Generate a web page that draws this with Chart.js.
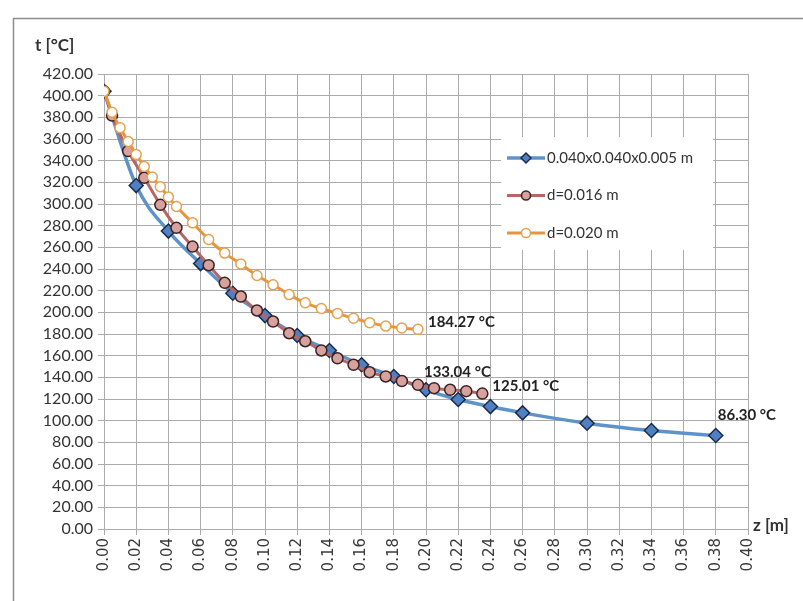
<!DOCTYPE html>
<html lang="en">
<head>
<meta charset="UTF-8">
<title>t [°C] vs z [m]</title>
<script src="https://cdn.jsdelivr.net/npm/chart.js"></script>
<style>
  html, body { margin: 0; padding: 0; background: #ffffff; }
  #chart { display: block; }
</style>
</head>
<body>
<canvas id="chart" width="803" height="601"></canvas>
<script>
// 0.040x0.040x0.005 m profile
const zBar = [0, 0.02, 0.04, 0.06, 0.08, 0.10, 0.12, 0.14, 0.16, 0.18, 0.20, 0.22, 0.24, 0.26, 0.30, 0.34, 0.38];
const tBar = [404, 317, 275, 245, 217.6, 197, 178.6, 164.8, 151.6, 140.8, 128.5, 119.5, 113, 107.2, 97.7, 90.9, 86.30];

// d=0.016 m
const z16 = [0, 0.005, 0.015, 0.025, 0.035, 0.045, 0.055, 0.065, 0.075, 0.085, 0.095, 0.105, 0.115,
             0.125, 0.135, 0.145, 0.155, 0.165, 0.175, 0.185, 0.195, 0.205, 0.215, 0.225, 0.235];
const t16 = [404, 381.6, 348.9, 324.2, 299.2, 278, 260.7, 243.5, 227.2, 214.6, 201.7, 191.5, 180.7,
             173.3, 164.8, 157.6, 151.6, 144.7, 140.8, 136.6, 133.04, 130, 128.5, 127.2, 125.01];

// d=0.020 m
const z20 = [0, 0.005, 0.010, 0.015, 0.020, 0.025, 0.030, 0.035, 0.040, 0.045, 0.055, 0.065, 0.075,
             0.085, 0.095, 0.105, 0.115, 0.125, 0.135, 0.145, 0.155, 0.165, 0.175, 0.185, 0.195];
const t20 = [404, 384.7, 370.3, 357.7, 345.7, 334.6, 324.9, 315.9, 306.4, 297.7, 282.6, 267.2, 254.7,
             244.6, 234, 225.4, 216.4, 208.8, 203.5, 199, 194.5, 190.5, 187.3, 185.5, 184.27];

const seriesNames = ['0.040x0.040x0.005 m', 'd=0.016 m', 'd=0.020 m'];
const zTicks = [0, 0.02, 0.04, 0.06, 0.08, 0.10, 0.12, 0.14, 0.16, 0.18, 0.20,
                0.22, 0.24, 0.26, 0.28, 0.30, 0.32, 0.34, 0.36, 0.38, 0.40];
const tTicks = [0, 20, 40, 60, 80, 100, 120, 140, 160, 180, 200,
                220, 240, 260, 280, 300, 320, 340, 360, 380, 400, 420];

// which points carry a value label: [dataset, point index, text]
const valueLabels = [
  [2, z20.length - 1, '184.27 °C'],
  [1, 20, '133.04 °C'],
  [1, z16.length - 1, '125.01 °C'],
  [0, zBar.length - 1, '86.30 °C']
];

function pts(xs, ys) {
  return xs.map((x, i) => ({ x: x, y: ys[i] }));
}

const GRID = '#ababab';
const TXT = '#333333';

const framePlugin = {
  id: 'frame',
  beforeDraw(chart) {
    const ctx = chart.ctx;
    ctx.save();
    ctx.fillStyle = '#ffffff';
    ctx.fillRect(0, 0, chart.width, chart.height);
    ctx.strokeStyle = '#8c8c8c';
    ctx.lineWidth = 1.5;
    ctx.strokeRect(13.5, 18.5, 820, 620);
    ctx.restore();
  },
  afterDraw(chart) {
    const ctx = chart.ctx;
    const area = chart.chartArea;
    ctx.save();
    ctx.fillStyle = TXT;
    ctx.font = 'bold 17px Lato';
    ctx.textBaseline = 'middle';
    ctx.textAlign = 'left';
    ctx.fillText('t [°C]', 35, 46);
    ctx.fillText('z [m]', area.right + 5, area.bottom - 3);

    // value labels
    ctx.font = 'bold 15px Lato';
    ctx.fillStyle = '#222222';
    valueLabels.forEach(([ds, idx, text]) => {
      const el = chart.getDatasetMeta(ds).data[idx];
      let dx = 10, dy = -7;
      if (ds === 1 && idx === 20) { dx = 6; dy = -13; }
      if (ds === 0) { dx = 2; dy = -20; }
      ctx.fillText(text, el.x + dx, el.y + dy);
    });

    // legend box
    const lx = 501, ly = 137, lw = 212, lh = 113;
    ctx.fillStyle = '#ffffff';
    ctx.fillRect(lx, ly, lw, lh);
    ctx.font = '15px Lato';
    chart.data.datasets.forEach((d, i) => {
      const y = ly + 21 + i * 37.5;
      ctx.strokeStyle = d.borderColor;
      ctx.lineWidth = d.borderWidth;
      ctx.beginPath();
      ctx.moveTo(lx + 6, y);
      ctx.lineTo(lx + 44, y);
      ctx.stroke();
      ctx.fillStyle = d.pointBackgroundColor;
      ctx.strokeStyle = d.pointBorderColor;
      ctx.lineWidth = d.pointBorderWidth;
      ctx.beginPath();
      if (d.pointStyle === 'rectRot') {
        const r = 5;
        ctx.moveTo(lx + 25, y - r);
        ctx.lineTo(lx + 25 + r, y);
        ctx.lineTo(lx + 25, y + r);
        ctx.lineTo(lx + 25 - r, y);
        ctx.closePath();
      } else {
        ctx.arc(lx + 25, y, 4.5, 0, Math.PI * 2);
      }
      ctx.fill();
      ctx.stroke();
      ctx.fillStyle = TXT;
      ctx.fillText(d.label, lx + 46, y);
    });
    ctx.restore();
  }
};

new Chart(document.getElementById('chart'), {
  type: 'scatter',
  data: {
    datasets: [
      {
        label: seriesNames[0],
        data: pts(zBar, tBar),
        showLine: true,
        borderColor: '#5e93c9',
        borderWidth: 3.5,
        pointStyle: 'rectRot',
        pointRadius: 7,
        pointBackgroundColor: '#4f80c4',
        pointBorderColor: '#1c2b45',
        pointBorderWidth: 1.5,
        cubicInterpolationMode: 'monotone',
        order: 3
      },
      {
        label: seriesNames[1],
        data: pts(z16, t16),
        showLine: true,
        borderColor: '#b86664',
        borderWidth: 3,
        pointStyle: 'circle',
        pointRadius: 5.5,
        pointBackgroundColor: '#d7a19e',
        pointBorderColor: '#3a2222',
        pointBorderWidth: 1.5,
        cubicInterpolationMode: 'monotone',
        order: 2
      },
      {
        label: seriesNames[2],
        data: pts(z20, t20),
        showLine: true,
        borderColor: '#e6953e',
        borderWidth: 3,
        pointStyle: 'circle',
        pointRadius: 5,
        pointBackgroundColor: '#ffffff',
        pointBorderColor: '#e6a050',
        pointBorderWidth: 1.5,
        cubicInterpolationMode: 'monotone',
        order: 1
      }
    ]
  },
  options: {
    responsive: false,
    animation: false,
    devicePixelRatio: 1,
    layout: { padding: { left: 0, top: 74, right: 55, bottom: 0 } },
    plugins: {
      legend: { display: false },
      tooltip: { enabled: false }
    },
    scales: {
      x: {
        type: 'linear',
        min: 0,
        max: 0.40,
        afterFit(s) { s.height = 72; },
        afterBuildTicks(s) { s.ticks = zTicks.map(v => ({ value: v })); },
        grid: { color: GRID, lineWidth: 1, tickLength: 6 },
        border: { color: GRID, width: 1 },
        ticks: {
          autoSkip: false,
          minRotation: 90,
          maxRotation: 90,
          padding: 3,
          color: '#3a3a3a',
          font: { family: 'DejaVu Sans', size: 15 },
          callback: v => Number(v).toFixed(2)
        }
      },
      y: {
        type: 'linear',
        min: 0,
        max: 420,
        afterFit(s) { s.width = 104; },
        afterBuildTicks(s) { s.ticks = tTicks.map(v => ({ value: v })); },
        grid: { color: GRID, lineWidth: 1, tickLength: 6 },
        border: { color: GRID, width: 1 },
        ticks: {
          autoSkip: false,
          padding: 5,
          color: TXT,
          font: { family: 'Lato', size: 16 },
          callback: v => Number(v).toFixed(2)
        }
      }
    }
  },
  plugins: [framePlugin]
});
</script>
</body>
</html>
